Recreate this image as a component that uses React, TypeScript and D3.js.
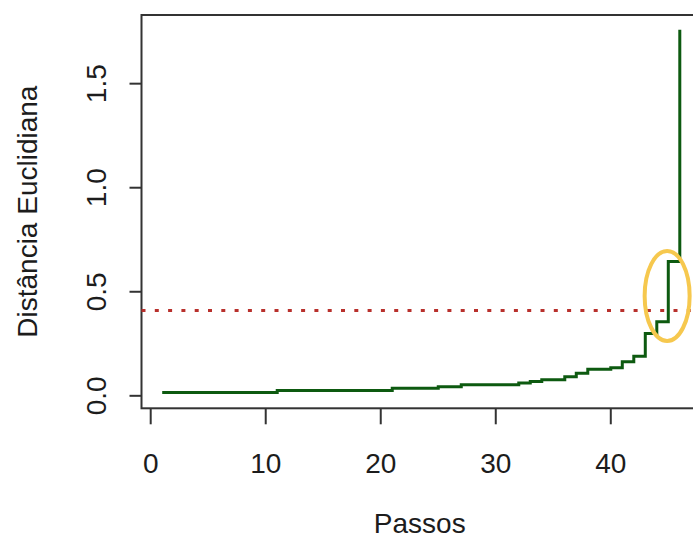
import React from "react";
import * as d3 from "d3";

const steps: number[] = Array.from({ length: 46 }, (_, i) => i + 1);
const distances: number[] = [
  0.016, 0.016, 0.016, 0.016, 0.016, 0.016, 0.016, 0.016, 0.016, 0.016,
  0.026, 0.026, 0.026, 0.026, 0.026, 0.026, 0.026, 0.026, 0.026, 0.026,
  0.036, 0.036, 0.036, 0.036,
  0.043, 0.043,
  0.053, 0.053, 0.053, 0.053, 0.053,
  0.062, 0.069, 0.077, 0.077,
  0.092, 0.108, 0.128, 0.128, 0.135,
  0.164, 0.19, 0.3, 0.356, 0.645, 1.759,
];
const xTicks: number[] = [0, 10, 20, 30, 40];
const yTicks: number[] = [0, 0.5, 1.0, 1.5];
const cutHeight = 0.41;
const xLabel = "Passos";
const yLabel = "Distância Euclidiana";

const W = 693;
const H = 540;
const left = 141.5;
const right = 700.5;
const top = 15;
const bottom = 408.3;
const font = "Liberation Sans, Arial, sans-serif";
const fs = 28;
const textColor = "#1c1c1c";

export default function App() {
  const x = d3.scaleLinear().domain([-0.8, 47.8]).range([left, right]);
  const y = d3.scaleLinear().domain([-0.06, 1.83]).range([bottom, top]);
  const pts: [number, number][] = steps.map((s, i) => [s, distances[i]]);
  const line = d3
    .line<[number, number]>()
    .x((d) => x(d[0]))
    .y((d) => y(d[1]))
    .curve(d3.curveStepAfter);

  const tickLen = 14;
  return (
    <svg
      width={W}
      height={H}
      style={{ position: "absolute", left: 0, top: 0, background: "#fff" }}
    >
      <rect x={0} y={0} width={W} height={H} fill="#fff" />
      <rect
        x={left}
        y={top}
        width={right - left}
        height={bottom - top}
        fill="none"
        stroke="#333"
        strokeWidth={2}
      />
      <line
        x1={left}
        x2={W}
        y1={y(cutHeight)}
        y2={y(cutHeight)}
        stroke="#b8302c"
        strokeWidth={3}
        strokeDasharray="4 9.3"
      />
      <path d={line(pts) || ""} fill="none" stroke="#0d5a10" strokeWidth={3} />
      <ellipse
        cx={x(44.9)}
        cy={y(0.48)}
        rx={22.5}
        ry={45}
        fill="none"
        stroke="#f6c84e"
        strokeWidth={4}
      />
      {xTicks.map((t) => (
        <g key={"x" + t}>
          <line
            x1={x(t)}
            x2={x(t)}
            y1={bottom}
            y2={bottom + tickLen + 2}
            stroke="#333"
            strokeWidth={2}
          />
          <text
            x={x(t)}
            y={473}
            textAnchor="middle"
            fontFamily={font}
            fontSize={fs}
            fill={textColor}
          >
            {String(t)}
          </text>
        </g>
      ))}
      {yTicks.map((t) => (
        <g key={"y" + t}>
          <line
            x1={left - tickLen + 2}
            x2={left}
            y1={y(t)}
            y2={y(t)}
            stroke="#333"
            strokeWidth={2}
          />
          <text
            transform={`translate(106,${y(t)}) rotate(-90)`}
            textAnchor="middle"
            fontFamily={font}
            fontSize={fs}
            fill={textColor}
          >
            {t.toFixed(1)}
          </text>
        </g>
      ))}
      <text
        x={(left + 700) / 2 - 1}
        y={533}
        textAnchor="middle"
        fontFamily={font}
        fontSize={fs}
        fill={textColor}
      >
        {xLabel}
      </text>
      <text
        transform={`translate(37,${(top + bottom) / 2}) rotate(-90)`}
        textAnchor="middle"
        fontFamily={font}
        fontSize={fs}
        fill={textColor}
      >
        {yLabel}
      </text>
    </svg>
  );
}
